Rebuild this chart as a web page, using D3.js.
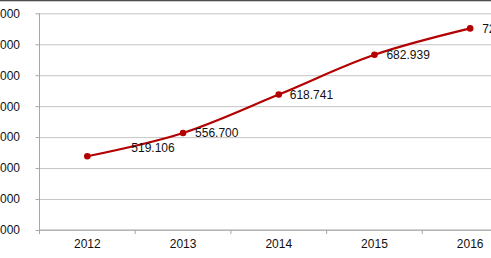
<!DOCTYPE html>
<html>
<head>
<meta charset="utf-8">
<script src="https://cdn.jsdelivr.net/npm/d3@7"></script>
<style>
  body { margin: 0; background: #fff; overflow: hidden; }
  svg { display: block; font-family: "Liberation Sans", Arial, sans-serif; }
  .axis path { display: none; }
  .axis line { stroke: #a6a6a6; }
  .axis text { fill: #111; font-size: 12px; }
  .grid line { stroke: #c4c4c4; }
  .lbl { fill: #111; font-size: 12px; }
</style>
</head>
<body>
<div id="chartDiv"></div>
<script>
// data
const years = ['2012', '2013', '2014', '2015', '2016'];
const values = [519106, 556700, 618741, 682939, 725600];
const yTicks = [400000, 450000, 500000, 550000, 600000, 650000, 700000, 750000];

const width = 491, height = 258;
const margin = {top: 13.3, left: 39.5, bottom: 28, right: -27};

// european style numbers: 519.106
const loc = d3.formatLocale({decimal: ',', thousands: '.', grouping: [3], currency: ['', '']});
const fmt = loc.format(',');

// label nudges (dx, dy) per point, first label sits off to the right
const labelShift = [[44, -8], [12, 0], [11, 0], [12, 0], [12, 0]];

let svg = d3.select('#chartDiv').append('svg')
    .attr('width', width)
    .attr('height', height);

// outer frame at top
svg.append('line').attr('x1', 0).attr('x2', width).attr('y1', 0.5).attr('y2', 0.5)
    .attr('stroke', '#4d4d4d');
svg.append('line').attr('x1', 0).attr('x2', width).attr('y1', 1.5).attr('y2', 1.5)
    .attr('stroke', '#cfcfcf');

let x = d3.scaleBand()
    .domain(years)
    .range([margin.left, width - margin.right])
    .padding(0);

let y = d3.scaleLinear()
    .domain([400000, 750000])
    .range([height - margin.bottom, margin.top]);

// gridlines
svg.append('g')
    .attr('class', 'grid')
    .attr('transform', `translate(${margin.left},0)`)
    .call(d3.axisLeft(y).tickValues(yTicks).tickSize(-(width - margin.right - margin.left)).tickFormat(''))
    .call(g => g.select('.domain').remove());

// y axis (labels run off the left edge like the original crop)
svg.append('g')
    .attr('class', 'axis yAxis')
    .attr('transform', `translate(${margin.left},0)`)
    .call(d3.axisLeft(y).tickValues(yTicks).tickSize(4).tickPadding(15.5).tickFormat(fmt));

svg.append('line')
    .attr('x1', margin.left).attr('x2', margin.left)
    .attr('y1', y(750000)).attr('y2', y(400000))
    .attr('stroke', '#a6a6a6');

// x axis: labels centred, ticks on the band edges
svg.append('g')
    .attr('class', 'axis xAxis')
    .attr('transform', `translate(0,${y(400000)})`)
    .call(d3.axisBottom(x).tickSize(0).tickPadding(9));

let edges = years.map(d => x(d)).concat([x(years[years.length - 1]) + x.bandwidth()]);
svg.append('g').selectAll('line')
    .data(edges)
    .enter().append('line')
    .attr('x1', d => d).attr('x2', d => d)
    .attr('y1', y(400000)).attr('y2', y(400000) + 4)
    .attr('stroke', '#a6a6a6');

svg.append('line')
    .attr('x1', margin.left).attr('x2', width)
    .attr('y1', y(400000)).attr('y2', y(400000))
    .attr('stroke', '#a6a6a6');

// series
let pts = years.map((d, i) => ({year: d, value: values[i]}));
let cx = d => x(d.year) + x.bandwidth() / 2;

svg.append('path')
    .datum(pts)
    .attr('fill', 'none')
    .attr('stroke', '#b30000')
    .attr('stroke-width', 2.2)
    .attr('d', d3.line().x(cx).y(d => y(d.value)).curve(d3.curveCatmullRom.alpha(0.5)));

svg.selectAll('circle.pt')
    .data(pts)
    .enter().append('circle')
    .attr('class', 'pt')
    .attr('cx', cx)
    .attr('cy', d => y(d.value))
    .attr('r', 3.3)
    .attr('fill', '#b30000');

svg.selectAll('text.lbl')
    .data(pts)
    .enter().append('text')
    .attr('class', 'lbl')
    .attr('x', (d, i) => cx(d) + labelShift[i][0])
    .attr('y', (d, i) => y(d.value) + labelShift[i][1])
    .attr('dy', '0.35em')
    .text(d => fmt(d.value));
</script>
</body>
</html>
